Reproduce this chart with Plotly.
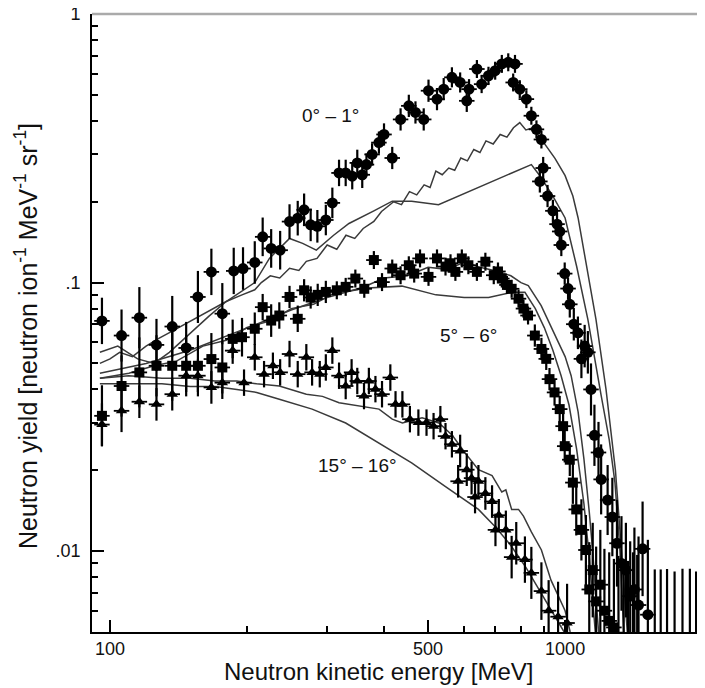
import plotly.graph_objects as go

# ---------------- data ----------------
# 0 - 1 deg  (filled circles)
c_x = [96, 106, 116, 126.5, 137, 147, 156, 167, 176.5, 187, 196, 208, 216.5, 226, 236.5, 248, 258.5, 267, 276, 285.5,
       298, 308, 318.6, 329.5, 340.6, 349.4, 358.3, 366, 376.6, 389.8, 400, 417, 435, 453.5, 469, 489, 501, 523, 541, 564,
       588, 608, 615, 640, 655.5, 678.6, 702, 726, 750, 769, 776, 795, 822, 843, 865, 880, 887, 895, 915, 940,
       960, 973, 981, 998, 1015, 1024, 1045, 1067, 1086, 1104, 1122, 1140, 1160, 1184, 1200, 1240, 1270, 1300, 1330, 1360,
       1390, 1420, 1450, 1480, 1520, 1574, 1622, 1675, 1740, 1811, 1880, 1940, 1985]
c_y = [0.072, 0.0635, 0.074, 0.0586, 0.0686, 0.0571, 0.0884, 0.1096, 0.0766, 0.1105,
       0.1128, 0.1188, 0.148, 0.134, 0.132, 0.1687, 0.1737, 0.1866, 0.164, 0.162,
       0.171, 0.198, 0.256, 0.256, 0.249, 0.279, 0.252, 0.275, 0.300, 0.332,
       0.356, 0.291, 0.405, 0.455, 0.430, 0.405, 0.518, 0.482, 0.525, 0.581,
       0.556, 0.475, 0.525, 0.624, 0.548, 0.589, 0.615, 0.652, 0.661, 0.556,
       0.652, 0.525, 0.482, 0.418, 0.372, 0.238, 0.341, 0.267, 0.210, 0.185,
       0.165, 0.155, 0.138, 0.108, 0.095, 0.083, 0.070, 0.065, 0.052, 0.058,
       0.055, 0.040, 0.027, 0.0233, 0.0185, 0.0155, 0.0134, 0.0107, 0.0090, 0.0085,
       0.0068, 0.0072, 0.0063, 0.0102, 0.0058, 0.0045, 0.0045, 0.0044, 0.0042, 0.0043,
       0.0043, 0.0042, 0.0043]
c_rel = [0.22, 0.25, 0.3, 0.25, 0.3, 0.25, 0.25, 0.22, 0.3, 0.22,
         0.2, 0.2, 0.18, 0.18, 0.18, 0.16, 0.16, 0.15, 0.15, 0.15,
         0.14, 0.14, 0.12, 0.12, 0.12, 0.12, 0.12, 0.1, 0.1, 0.1,
         0.1, 0.1, 0.1, 0.1, 0.1, 0.1, 0.1, 0.1, 0.1, 0.09,
         0.09, 0.1, 0.09, 0.08, 0.08, 0.08, 0.08, 0.08, 0.08, 0.08,
         0.08, 0.08, 0.08, 0.08, 0.08, 0.1, 0.08, 0.1, 0.1, 0.1,
         0.1, 0.1, 0.1, 0.1, 0.1, 0.12, 0.15, 0.15, 0.18, 0.2,
         0.2, 0.25, 0.3, 0.3, 0.35, 0.35, 0.4, 0.45, 0.5, 0.5,
         0.6, 0.7, 0.8, 0.5, 0.9, 0.9, 0.9, 0.95, 1.0, 1.0,
         1.0, 1.0, 1.0]

# 5 - 6 deg  (filled squares)
s_x = [96, 106, 116, 126.5, 137, 147, 156, 167, 176.5, 186, 195, 208, 216.5, 226, 235.5, 248, 258.5, 267, 276, 286,
       298, 315, 329.5, 346, 362, 380, 396, 417, 435, 453.5, 466, 480, 501, 523, 546, 560, 574, 593, 613, 640,
       668, 697, 712, 726, 745, 763, 790, 810, 829, 858, 887, 909, 924, 948, 973, 990, 998, 1024, 1040, 1058,
       1086, 1111, 1130, 1150, 1170, 1195, 1220, 1250, 1280, 1310, 1345, 1375, 1410, 1440]
s_y = [0.0319, 0.0412, 0.0463, 0.049, 0.049, 0.049, 0.049, 0.0519, 0.0483, 0.0617,
       0.0626, 0.0673, 0.081, 0.0722, 0.0754, 0.0884, 0.0733, 0.0936, 0.088, 0.09,
       0.0923, 0.0936, 0.0964, 0.1035, 0.0948, 0.1213, 0.1004, 0.1128, 0.1065, 0.116,
       0.108, 0.123, 0.105, 0.123, 0.1147, 0.118, 0.1096, 0.123, 0.116, 0.1096,
       0.1196, 0.1065, 0.11, 0.1035, 0.098, 0.0948, 0.0871, 0.08, 0.0754, 0.0635,
       0.0566, 0.052, 0.0437, 0.039, 0.0338, 0.0292, 0.0246, 0.0219, 0.018, 0.0143,
       0.012, 0.0101, 0.0072, 0.0085, 0.0065, 0.0075, 0.006, 0.0055, 0.0052, 0.0048,
       0.0046, 0.0046, 0.0045, 0.0044]
s_rel = [0.3, 0.3, 0.35, 0.3, 0.35, 0.3, 0.3, 0.25, 0.25, 0.18,
         0.18, 0.15, 0.12, 0.15, 0.12, 0.1, 0.12, 0.1, 0.1, 0.1,
         0.1, 0.08, 0.08, 0.08, 0.08, 0.08, 0.08, 0.08, 0.08, 0.08,
         0.08, 0.08, 0.08, 0.08, 0.08, 0.08, 0.08, 0.08, 0.08, 0.08,
         0.08, 0.08, 0.08, 0.08, 0.08, 0.08, 0.08, 0.08, 0.08, 0.1,
         0.1, 0.1, 0.1, 0.12, 0.12, 0.15, 0.15, 0.15, 0.2, 0.25,
         0.3, 0.35, 0.5, 0.5, 0.6, 0.6, 0.7, 0.8, 0.8, 1.0,
         1.0, 1.0, 1.2, 1.2]

# 15 - 16 deg  (filled triangles)
t_x = [96, 106, 116, 126.5, 137, 147, 156, 167, 176.5, 186, 197, 208, 218, 228, 236.5, 248, 258.5, 270, 278, 289,
       298, 308, 318.6, 329.5, 339.5, 349.4, 361.5, 370.5, 383, 396, 413, 424, 439, 456, 476, 496, 514, 532, 546, 564,
       582, 588, 608, 623, 634, 645, 668, 691, 703, 715, 741, 763, 781, 816, 843, 887, 920, 965, 1010]
t_y = [0.0296, 0.0333, 0.036, 0.0352, 0.0384, 0.045, 0.045, 0.0407, 0.0424, 0.0558,
       0.0424, 0.0527, 0.0456, 0.049, 0.0463, 0.0542, 0.0456, 0.0527, 0.0463, 0.0456,
       0.0483, 0.0558, 0.045, 0.0412, 0.0463, 0.043, 0.0378, 0.043, 0.0401, 0.0384,
       0.0443, 0.0352, 0.0352, 0.031, 0.0301, 0.0301, 0.0292, 0.031, 0.0268, 0.025,
       0.0182, 0.0236, 0.0201, 0.0187, 0.0159, 0.0182, 0.0164, 0.0153, 0.012, 0.0136,
       0.012, 0.0095, 0.0107, 0.0093, 0.0083, 0.0071, 0.006, 0.0057, 0.0054]
t_rel = [0.2, 0.2, 0.15, 0.15, 0.15, 0.15, 0.15, 0.15, 0.15, 0.12,
         0.12, 0.12, 0.12, 0.12, 0.12, 0.12, 0.12, 0.12, 0.12, 0.12,
         0.12, 0.12, 0.12, 0.12, 0.12, 0.12, 0.12, 0.12, 0.12, 0.12,
         0.12, 0.12, 0.12, 0.12, 0.12, 0.12, 0.12, 0.12, 0.12, 0.12,
         0.15, 0.15, 0.15, 0.15, 0.15, 0.15, 0.15, 0.15, 0.15, 0.15,
         0.18, 0.2, 0.2, 0.22, 0.25, 0.28, 0.3, 0.35, 0.4]

x_halfwidth_rel = 0.04   # energy-bin half width (relative)

# model curves
A_x = [95, 100, 105, 112, 120, 128, 137, 146, 157, 168, 180, 195, 208, 215, 225, 236, 248, 260, 270, 285,
       300, 315, 330, 345, 360, 380, 395, 420, 437, 455, 472, 490, 505, 520, 537, 555, 572, 590, 610, 630,
       650, 670, 695, 720, 745, 770, 795, 820, 850, 900, 950, 1000, 1040, 1068, 1120, 1169, 1230, 1290, 1330, 1370]
A_y = [0.050, 0.052, 0.055, 0.053, 0.058, 0.062, 0.066, 0.070, 0.075, 0.080,
       0.085, 0.090, 0.094, 0.100, 0.106, 0.104, 0.113, 0.111, 0.120, 0.123,
       0.138, 0.133, 0.150, 0.146, 0.159, 0.169, 0.184, 0.200, 0.195, 0.218,
       0.212, 0.231, 0.226, 0.260, 0.252, 0.267, 0.262, 0.291, 0.284, 0.313,
       0.305, 0.337, 0.328, 0.356, 0.348, 0.377, 0.394, 0.370, 0.377, 0.330,
       0.290, 0.250, 0.210, 0.174, 0.110, 0.073, 0.040, 0.020, 0.010, 0.005]
B_x = [95, 104, 115, 125, 135, 150, 165, 180, 195, 208, 224, 248, 265, 284, 310, 335, 380, 417, 460, 527,
       843, 880, 940, 1000, 1060, 1122, 1200, 1250, 1287, 1320, 1345]
B_y = [0.055, 0.058, 0.052, 0.050, 0.055, 0.065, 0.075, 0.085, 0.093, 0.100,
       0.123, 0.146, 0.140, 0.132, 0.150, 0.166, 0.185, 0.201, 0.201, 0.195,
       0.275, 0.250, 0.210, 0.174, 0.115, 0.073, 0.038, 0.026, 0.018, 0.010, 0.005]
C_x = [95, 110, 125, 140, 160, 180, 200, 225, 250, 280, 310, 350, 400, 450, 500, 550, 600, 650, 713, 760,
       800, 830, 886, 931, 966, 1000, 1031, 1068, 1100, 1130, 1150, 1170, 1185]
C_y = [0.044, 0.046, 0.049, 0.051, 0.058, 0.061, 0.068, 0.072, 0.080, 0.083,
       0.091, 0.094, 0.104, 0.106, 0.114, 0.112, 0.119, 0.114, 0.110, 0.106,
       0.100, 0.0975, 0.082, 0.069, 0.060, 0.053, 0.045, 0.033, 0.022, 0.014,
       0.010, 0.0065, 0.005]
D_x = [95, 120, 150, 180, 210, 250, 300, 352, 438, 520, 600, 679, 763, 816, 860, 900, 940, 980, 1020, 1060,
       1100, 1130, 1150, 1165]
D_y = [0.046, 0.050, 0.056, 0.063, 0.070, 0.079, 0.088, 0.095, 0.097, 0.090, 0.088, 0.088, 0.092, 0.092,
       0.080, 0.068, 0.056, 0.045, 0.035, 0.024, 0.015, 0.0095, 0.0065, 0.005]
E_x = [95, 110, 130, 150, 170, 190, 210, 235.5, 270, 293, 318.6, 358, 390, 417, 439, 485, 528, 565, 603, 645,
       691, 726, 741, 763, 790, 810, 843, 887, 931, 1000, 1026]
E_y = [0.044, 0.045, 0.044, 0.044, 0.043, 0.043, 0.042, 0.0412, 0.0384, 0.0377, 0.0357, 0.0347, 0.0338, 0.031,
       0.030, 0.0314, 0.030, 0.027, 0.0232, 0.0201, 0.0191, 0.0166, 0.0169, 0.0143, 0.0143, 0.0135, 0.0118,
       0.0101, 0.0078, 0.006, 0.005]
F_x = [95, 110, 130, 150, 170, 190, 210, 235.5, 278, 329.5, 390, 460, 546, 645, 703, 760, 820, 880, 940, 995]
F_y = [0.042, 0.042, 0.042, 0.041, 0.041, 0.040, 0.039, 0.0368, 0.0338, 0.030, 0.0253, 0.0213, 0.0174,
       0.0143, 0.0123, 0.0105, 0.0087, 0.0071, 0.0059, 0.005]

angle_labels = ["0\u00b0 \u2013 1\u00b0", "5\u00b0 \u2013 6\u00b0", "15\u00b0 \u2013 16\u00b0"]
x_tickvals = [100, 500, 1000]
x_ticktext = ["100", "500", "1000"]
y_tickvals = [0.01, 0.1, 1]
y_ticktext = [".01", ".1", "1"]

# ---------------- figure ----------------
FONT = "Liberation Sans, Arial, Helvetica, sans-serif"
LINE_COL = "#3a3a3a"

fig = go.Figure()

for lx, ly in [(A_x, A_y), (B_x, B_y), (C_x, C_y), (D_x, D_y), (E_x, E_y), (F_x, F_y)]:
    fig.add_trace(go.Scatter(x=lx, y=ly, mode="lines",
                             line=dict(color=LINE_COL, width=1.5), hoverinfo="skip"))


def add_series(xs, ys, rel, symbol, size):
    eplus = [y * r for y, r in zip(ys, rel)]
    eminus = [y * r / (1 + r) for y, r in zip(ys, rel)]
    xplus = [x * x_halfwidth_rel for x in xs]
    xminus = [x * x_halfwidth_rel / (1 + x_halfwidth_rel) for x in xs]
    fig.add_trace(go.Scatter(
        x=xs, y=ys, mode="markers",
        marker=dict(symbol=symbol, size=size, color="black", line=dict(width=0)),
        error_y=dict(type="data", array=eplus, arrayminus=eminus, symmetric=False,
                     color="black", thickness=2.2, width=0),
        error_x=dict(type="data", array=xplus, arrayminus=xminus, symmetric=False,
                     color="black", thickness=1.8, width=0),
    ))


add_series(t_x, t_y, t_rel, "triangle-up", 10)
add_series(s_x, s_y, s_rel, "square", 10)
add_series(c_x, c_y, c_rel, "circle", 11)

# page body adds an 8 px offset; plot area sits at page px x 92..705, y 14..632
OFF = 8
W, H = 705, 688
L, T = 92 - OFF, 14 - OFF
B = H - (632 - OFF)
R = W - (705 - OFF)
pw, ph = W - L - R, H - T - B


def px2paper(px, py):
    fx, fy = px - OFF, py - OFF
    return (fx - L) / pw, (H - B - fy) / ph


annots = []
for txt, (px, py) in zip(angle_labels, [(330, 115), (468, 335), (357, 465)]):
    ax, ay = px2paper(px, py)
    annots.append(dict(text=txt, x=ax, y=ay, xref="paper", yref="paper", showarrow=False,
                       xanchor="center", yanchor="middle",
                       font=dict(family=FONT, size=19, color="#111")))

ax, ay = px2paper(378, 672)
annots.append(dict(text="Neutron kinetic energy [MeV]", x=ax, y=ay, xref="paper", yref="paper",
                   showarrow=False, xanchor="center", yanchor="middle",
                   font=dict(family=FONT, size=24, color="#111")))
ax, ay = px2paper(26, 336)
annots.append(dict(text="Neutron yield [neutron ion<sup>-1</sup> MeV<sup>-1</sup> sr<sup>-1</sup>]",
                   x=ax, y=ay, xref="paper", yref="paper", showarrow=False, textangle=-90,
                   xanchor="center", yanchor="middle",
                   font=dict(family=FONT, size=25, color="#111")))

fig.update_layout(
    width=W, height=H,
    margin=dict(l=L, r=R, t=T, b=B, pad=0, autoexpand=False),
    paper_bgcolor="white", plot_bgcolor="white",
    showlegend=False,
    annotations=annots,
    shapes=[dict(type="line", xref="paper", yref="paper", x0=0, x1=1, y0=1, y1=1,
                 line=dict(color="#aaaaaa", width=2.5))],
)

fig.update_xaxes(
    type="log", range=[1.9604, 3.3074], automargin=False,
    showline=True, linecolor="black", linewidth=1.6, mirror=False,
    showgrid=False, zeroline=False,
    ticks="inside", ticklen=12, tickwidth=1.5, tickcolor="black",
    tickmode="array", tickvals=x_tickvals, ticktext=x_ticktext,
    tickfont=dict(family=FONT, size=18, color="#111"),
    ticklabelstandoff=0, ticklabeloverflow="allow",
    minor=dict(ticks="inside", ticklen=6, tickwidth=1.5, tickcolor="black",
               tickmode="array", tickvals=[200, 300, 400, 600, 700, 800, 900, 2000], showgrid=False),
)
fig.update_yaxes(
    type="log", range=[-2.30103, 0], automargin=False,
    showline=True, linecolor="black", linewidth=1.6, mirror=False,
    showgrid=False, zeroline=False,
    ticks="inside", ticklen=12, tickwidth=1.5, tickcolor="black",
    tickmode="array", tickvals=y_tickvals, ticktext=y_ticktext,
    tickfont=dict(family=FONT, size=18, color="#111"),
    ticklabelstandoff=6, ticklabeloverflow="allow",
    minor=dict(ticks="inside", ticklen=6, tickwidth=1.5, tickcolor="black",
               tickmode="array",
               tickvals=[0.006, 0.007, 0.008, 0.009, 0.02, 0.03, 0.04, 0.05, 0.06, 0.07, 0.08, 0.09,
                         0.2, 0.3, 0.4, 0.5, 0.6, 0.7, 0.8, 0.9], showgrid=False),
)

fig.write_html("out.html")
